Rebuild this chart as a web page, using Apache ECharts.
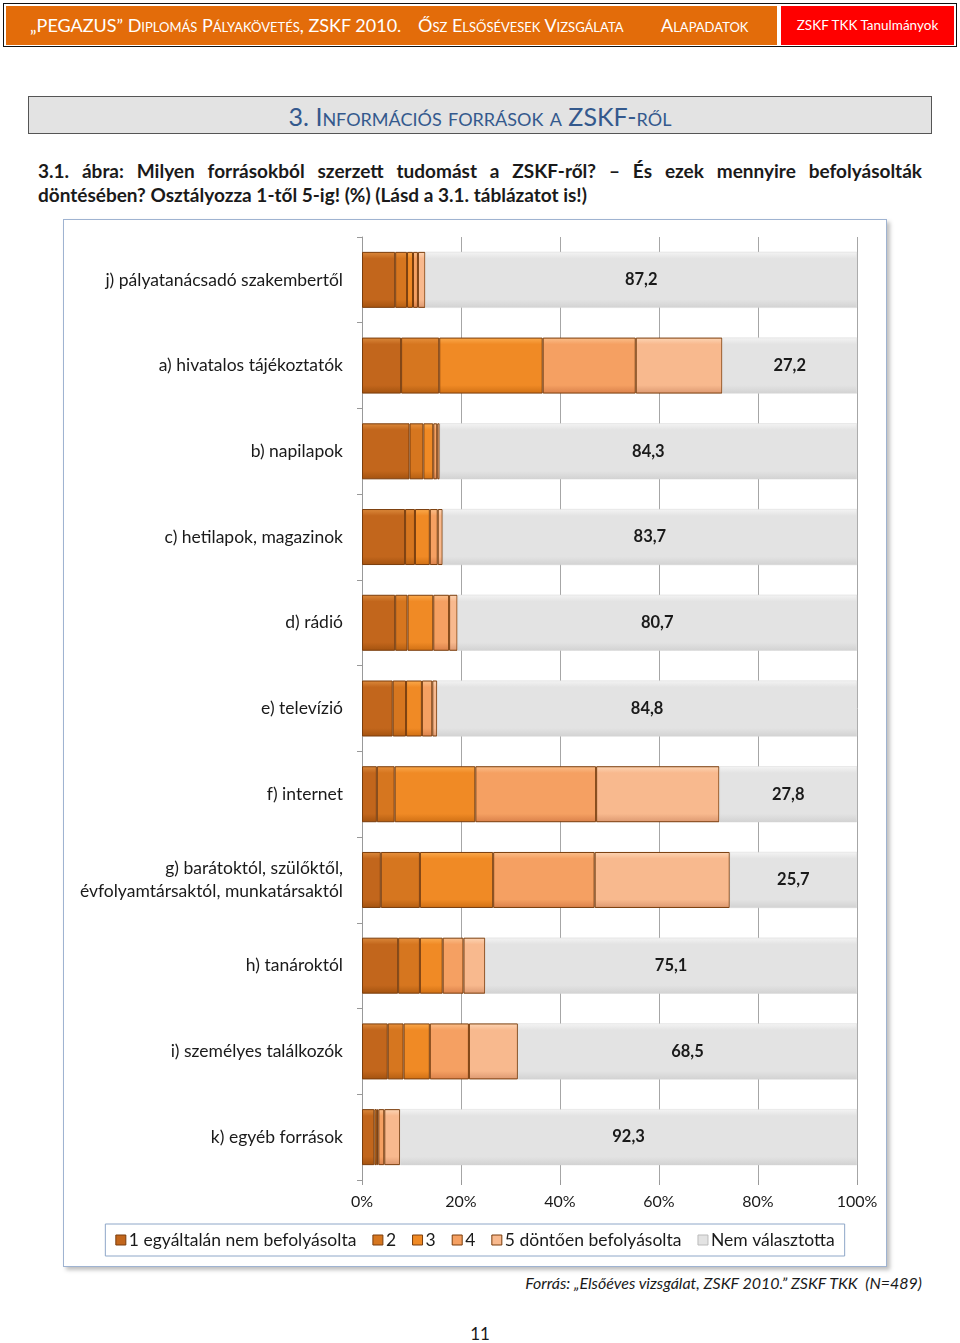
<!DOCTYPE html>
<html>
<head>
<meta charset="utf-8">
<script src="https://cdn.jsdelivr.net/npm/echarts@6/dist/echarts.min.js"></script>
<style>
  body { margin: 0; background: #fff; font-family: Lato, 'Noto Sans', sans-serif; color: #1a1a1a; }
  #page { position: relative; width: 960px; height: 1343px; overflow: hidden; }
  .hdr { position: absolute; left: 3px; top: 3px; width: 952px; height: 42px; border: 1px solid #111; }
  .hdr-o { position: absolute; left: 6px; top: 6px; width: 771px; height: 39px; background: #e36c0a; color: #fff;
           font-size: 18px; font-variant: small-caps; line-height: 39px; white-space: nowrap; }
  .hdr-r { position: absolute; left: 781px; top: 6px; width: 173px; height: 39px; background: #ff0000; color: #fff;
           font-size: 13.5px; line-height: 39px; text-align: center; white-space: nowrap; }
  .title { position: absolute; left: 28px; top: 96px; width: 902px; height: 36px; background: #e3e3e3; border: 1px solid #555;
           text-align: center; line-height: 38px; font-size: 25px; font-variant: small-caps; color: #34598d; }
  .cap { position: absolute; left: 38px; width: 884px; font-size: 19px; font-weight: bold; line-height: 24px; white-space: nowrap; }
  .cap1 { top: 159px; text-align: justify; text-align-last: justify; }
  .cap2 { top: 183px; }
  #frame { position: absolute; left: 63px; top: 219px; width: 822px; height: 1046px; border: 1px solid #9fb3d1;
           box-shadow: 3px 3px 4px rgba(0,0,0,0.25); }
  #chart { width: 822px; height: 1046px; }
  .src { position: absolute; right: 38px; top: 1273px; font-size: 16px; font-style: italic; }
  .pnum { position: absolute; left: 0; width: 960px; top: 1323px; text-align: center; font-size: 17px; }
</style>
</head>
<body>
<div id="page">
  <div class="hdr"></div>
  <div class="hdr-o">
    <span style="position:absolute;left:24px">„PEGAZUS” Diplomás Pályakövetés, ZSKF 2010.</span>
    <span style="position:absolute;left:412px">Ősz Elsősévesek Vizsgálata</span>
    <span style="position:absolute;left:655px">Alapadatok</span>
  </div>
  <div class="hdr-r">ZSKF TKK Tanulmányok</div>

  <div class="title">3. Információs források a ZSKF-ről</div>

  <div class="cap cap1">3.1. ábra: Milyen forrásokból szerzett tudomást a ZSKF-ről? – És ezek mennyire befolyásolták</div>
  <div class="cap cap2">döntésében? Osztályozza 1-től 5-ig! (%) (Lásd a 3.1. táblázatot is!)</div>

  <div id="frame"><div id="chart"></div></div>

  <div class="src">Forrás: „Elsőéves vizsgálat, ZSKF 2010.” ZSKF TKK&nbsp; (N=489)</div>
  <div class="pnum">11</div>
</div>

<script>
const categories = [
  'j) pályatanácsadó szakembertől',
  'a) hivatalos tájékoztatók',
  'b) napilapok',
  'c) hetilapok, magazinok',
  'd) rádió',
  'e) televízió',
  'f) internet',
  'g) barátoktól, szülőktől,\névfolyamtársaktól, munkatársaktól',
  'h) tanároktól',
  'i) személyes találkozók',
  'k) egyéb források'
]
const seriesNames = ['1 egyáltalán nem befolyásolta', '2', '3', '4', '5 döntően befolyásolta', 'Nem választotta']
const s1 = [6.7, 7.9, 9.6, 8.7, 6.7, 6.2, 3.0, 3.8, 7.3, 5.2, 2.5]
const s2 = [2.4, 7.7, 2.8, 2.0, 2.5, 2.7, 3.6, 7.9, 4.4, 3.2, 0.5]
const s3 = [1.2, 20.9, 2.0, 3.0, 5.2, 3.2, 16.3, 14.8, 4.6, 5.3, 0.3]
const s4 = [1.0, 18.8, 0.8, 1.6, 3.2, 2.1, 24.4, 20.5, 4.2, 7.9, 1.2]
const s5 = [1.5, 17.5, 0.5, 1.0, 1.7, 1.0, 24.9, 27.3, 4.4, 9.9, 3.2]
const nem = [87.2, 27.2, 84.3, 83.7, 80.7, 84.8, 27.8, 25.7, 75.1, 68.5, 92.3]
const xTicks = [0, 20, 40, 60, 80, 100]

// light / base / dark for the bevel look
const shades = [
  ['#dc8a3c', '#c2661c', '#a3520f'],
  ['#e7913e', '#d6761f', '#b45e12'],
  ['#fbab4e', '#f08a25', '#cf6f14'],
  ['#fbc08c', '#f5a062', '#d9804a'],
  ['#fdd6b6', '#f8b98e', '#dc9870'],
  ['#f4f4f4', '#e3e3e3', '#d2d2d2']
]

function grad(c) {
  return new echarts.graphic.LinearGradient(0, 0, 0, 1, [
    { offset: 0, color: c[0] },
    { offset: 0.12, color: c[1] },
    { offset: 0.85, color: c[1] },
    { offset: 1, color: c[2] }
  ])
}

const chart = echarts.init(document.getElementById('chart'))
const dataSets = [s1, s2, s3, s4, s5, nem]

const series = dataSets.map((d, i) => ({
  name: seriesNames[i],
  type: 'bar',
  stack: 'all',
  barWidth: 56,
  data: d,
  itemStyle: {
    color: grad(shades[i]),
    borderColor: i < 5 ? '#7a3d0c' : '#d6d6d6',
    borderWidth: i < 5 ? 1 : 0.5
  },
  emphasis: { disabled: true },
  label: i === 5 ? {
    show: true,
    position: 'inside',
    fontFamily: 'Lato',
    fontSize: 16.5,
    fontWeight: 'bold',
    color: '#1a1a1a',
    formatter: p => p.value.toFixed(1).replace('.', ',')
  } : { show: false }
}))

chart.setOption({
  animation: false,
  textStyle: { fontFamily: 'Lato' },
  legend: {
    data: seriesNames.map((n, i) => ({ name: n, itemStyle: { color: shades[i][1], borderColor: i < 5 ? '#7a3d0c' : '#bbb', borderWidth: 1 } })),
    left: 'center',
    top: 1004,
    icon: 'rect',
    itemWidth: 10,
    itemHeight: 10,
    itemGap: 16,
    padding: [7, 10],
    borderColor: '#8ea7c8',
    borderWidth: 1,
    textStyle: { fontSize: 17.5, color: '#1a1a1a', padding: [0, 0, 0, -2] }
  },
  grid: { left: 298, right: 29, top: 17, bottom: 86, containLabel: false },
  xAxis: {
    type: 'value',
    min: 0,
    max: 100,
    interval: 20,
    axisLine: { show: false },
    axisTick: { show: true, length: 5, lineStyle: { color: '#999' } },
    splitLine: { show: true, lineStyle: { color: '#a6a6a6', width: 1 } },
    axisLabel: {
      fontSize: 16,
      color: '#1a1a1a',
      margin: 14,
      customValues: xTicks,
      formatter: '{value}%'
    }
  },
  yAxis: {
    type: 'category',
    inverse: true,
    data: categories,
    axisLine: { show: true, lineStyle: { color: '#999' } },
    axisTick: { show: true, length: 5, lineStyle: { color: '#999' } },
    axisLabel: { fontSize: 17.5, color: '#1a1a1a', margin: 19, lineHeight: 23, align: 'right' }
  },
  series: series
})
</script>
</body>
</html>
